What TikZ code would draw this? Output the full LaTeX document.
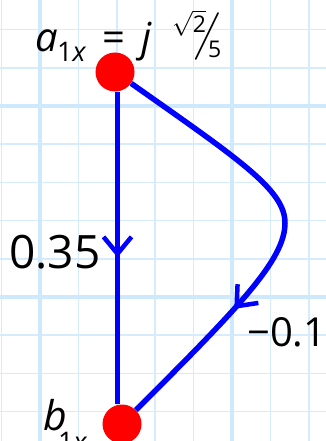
\documentclass[tikz,border=0pt]{standalone}
\usepackage{graphicx}
\usepackage{fontspec}
\setmainfont{Open Sans}
\newfontfamily\lmslash{Latin Modern Roman}
\usetikzlibrary{arrows.meta,decorations.markings}
\definecolor{gridminor}{RGB}{214,236,252}
\definecolor{gridmajor}{RGB}{206,232,252}
\definecolor{edgeblue}{RGB}{0,0,255}
\begin{document}
\begin{tikzpicture}[x=1pt,y=-1pt,
  vertex/.style={circle,fill=red,minimum size=39pt,inner sep=0pt},
  edge/.style={draw=edgeblue,line width=5.5pt},
  midarrow/.style={postaction={decorate},decoration={markings,
     mark=at position #1 with {\arrow{Straight Barb[length=17pt,width=28pt,line width=4.5pt]}}}},
  lbl/.style={inner sep=0pt,text=black},
  big/.style={lbl,font=\fontsize{40}{40}\selectfont},
  small/.style={lbl,font=\fontsize{27}{27}\selectfont},
  tiny/.style={lbl,font=\fontsize{23}{23}\selectfont}
]
\useasboundingbox (0,0) rectangle (326,441);
% grid
\foreach \i in {-1,...,7}
  \draw[gridminor,line width=1.6pt] ({40+38.4*\i},0) -- ++(0,441);
\foreach \j in {-2,...,8}
  \draw[gridminor,line width=1.6pt] (0,{106+38.2*\j}) -- ++(326,0);
\foreach \xx in {40,232}
  \draw[gridmajor,line width=4pt] (\xx,0) -- ++(0,441);
\foreach \yy in {106,297}
  \draw[gridmajor,line width=4pt] (0,\yy) -- ++(326,0);

% vertices
\node[vertex] (a) at (115,72) {};
\node[vertex] (b) at (122,424) {};
\coordinate (m) at (285,223);

% edges
\draw[edge,midarrow=0.53] (a.south -| 117.5,0) -- (b.north -| 117.5,0);
\draw[edge,midarrow=0.69] (a) .. controls (240,160) and (285,190) .. (m)
   .. controls (285,260) and (239,307) .. (b);

% labels
\node[big,anchor=base west] (la) at (35,52) {\itshape a};
\node[small,anchor=base west] (la1) at (57,62) {1\itshape x};
\node[big,anchor=base] (leq) at (113.5,52) {=};
\node[big,anchor=base west] (lj) at (141,52) {\itshape j};
\node[tiny,anchor=base west] (lnum) at (172,33) {$\sqrt{\hbox{2}}$};
\node[lbl] (lsl) at (207.5,36.5) {\rotatebox{-7}{\lmslash\fontsize{50}{50}\selectfont /}};
\node[tiny,anchor=base west] (lden) at (208,58) {5};

\node[lbl,font=\fontsize{46}{46}\selectfont] (w1) at (55,252.5) {0.35};
\node[lbl,font=\fontsize{40}{40}\selectfont,anchor=west] (w2) at (247,332.5) {−0.1};

\node[lbl,font=\fontsize{41}{41}\selectfont,anchor=base west] (lb) at (43,430) {\itshape b};
\node[small,anchor=base west] (lb1) at (58,451) {1\itshape x};
\end{tikzpicture}
\end{document}
